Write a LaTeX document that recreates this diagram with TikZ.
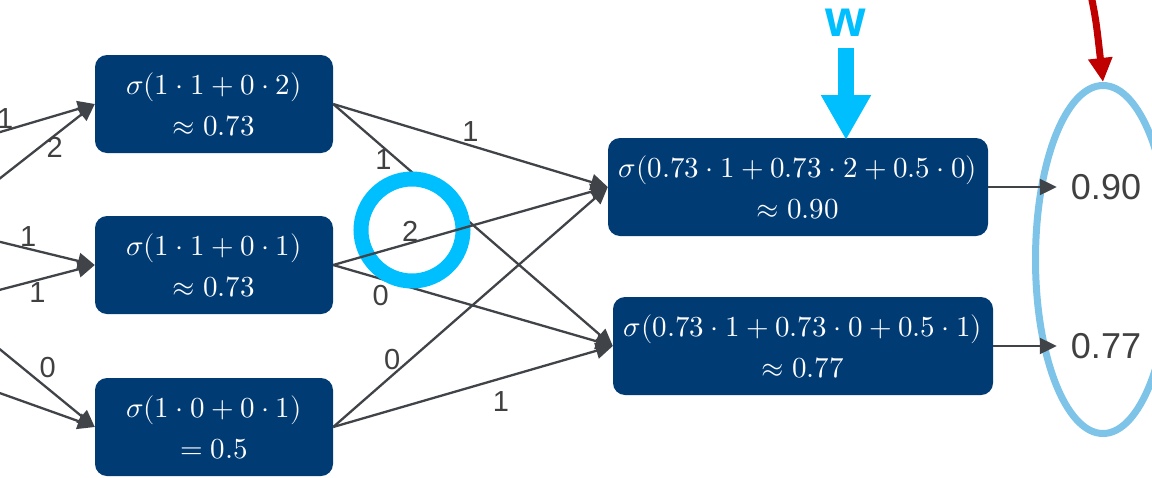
\documentclass[tikz,border=0pt]{standalone}
\usepackage{fontspec}
\usepackage{unicode-math}
\setmainfont{Liberation Sans}
\setmathfont{Latin Modern Math}
\usetikzlibrary{arrows.meta,shapes.geometric}
\definecolor{boxblue}{RGB}{0,59,116}
\definecolor{edgegray}{RGB}{64,68,72}
\definecolor{hlcyan}{RGB}{0,191,255}
\definecolor{ellblue}{RGB}{126,196,232}
\definecolor{arrowred}{RGB}{192,0,0}
\definecolor{txtgray}{RGB}{64,64,64}
\begin{document}
\begin{tikzpicture}[x=1pt,y=-1pt,
  neuron/.style={fill=boxblue, rounded corners=12pt, minimum width=238pt, minimum height=98pt,
    text=white, align=center, font=\fontsize{29pt}{41pt}\selectfont, inner sep=0pt},
  conn/.style={draw=edgegray, line width=2.3pt, -{Triangle[length=17pt,width=16pt]}},
  wlab/.style={font=\fontsize{29pt}{32pt}\selectfont, text=txtgray, inner sep=1pt},
  result/.style={font=\fontsize{36pt}{42pt}\selectfont, text=txtgray, inner xsep=14pt, inner ysep=0pt}
]
\clip (0,0) rectangle (1152,477);
\fill[white] (0,0) rectangle (1152,477);

% hidden layer
\node[neuron] (h1) at (214,104) {$\sigma(1\cdot 1+0\cdot 2)$\\$\approx 0.73$};
\node[neuron] (h2) at (214,265) {$\sigma(1\cdot 1+0\cdot 1)$\\$\approx 0.73$};
\node[neuron] (h3) at (214,427) {$\sigma(1\cdot 0+0\cdot 1)$\\$= 0.5$};
% output layer
\node[neuron, minimum width=380pt] (o1) at (798,187) {$\sigma(0.73\cdot 1+0.73\cdot 2+0.5\cdot 0)$\\$\approx 0.90$};
\node[neuron, minimum width=380pt] (o2) at (803,346) {$\sigma(0.73\cdot 1+0.73\cdot 0+0.5\cdot 1)$\\$\approx 0.77$};

% inputs coming from the left
\coordinate (a1) at (-20,138);
\coordinate (a2) at (-20,194);
\coordinate (b1) at (-20,237);
\coordinate (b2) at (-20,295);
\coordinate (c1) at (-20,333);
\coordinate (c2) at (-20,386);
\draw[conn] (a1) -- node[wlab,pos=0.22,above]{1} (h1.west);
\draw[conn] (a2) -- node[wlab,pos=0.65,below]{2} (h1.west);
\draw[conn] (b1) -- node[wlab,pos=0.42,above]{1} (h2.west);
\draw[conn] (b2) -- node[wlab,pos=0.5,below]{1} (h2.west);
\draw[conn] (c1) -- node[wlab,pos=0.5,anchor=south west]{0} (h3.west);
\draw[conn] (c2) -- (h3.west);

% hidden -> output
\draw[conn] (h1.east) -- node[wlab,pos=0.5,above=2pt]{1} (o1.west);
\draw[conn] (h1.east) -- node[wlab,pos=0.18,below]{1} (o2.west);
\draw[conn] (h2.east) -- node[wlab,pos=0.17,below=4pt]{0} (o2.west);
\draw[conn] (h3.east) -- node[wlab,pos=0.215,above=3pt]{0} (o1.west);
\draw[conn] (h3.east) -- node[wlab,pos=0.6,below=11pt]{1} (o2.west);

% highlight circle
\node[circle, draw=hlcyan, fill=white, line width=15pt, minimum size=102pt, inner sep=0pt] (hl) at (412,230) {};
\draw[conn] (h2.east) -- node[wlab,pos=0.28,above]{2} (o1.west);

% w arrow
\node[font=\fontsize{52pt}{54pt}\bfseries, text=hlcyan, inner sep=0pt] (w) at (846,23) {w};
\coordinate (wtip) at (846,140);
\draw[hlcyan, line width=16pt, -{Triangle[length=45pt,width=47pt]}] (846,48) -- (wtip);

% output ellipse and results
\node[ellipse, draw=ellblue, line width=7pt, minimum width=135pt, minimum height=348pt, inner sep=0pt] (ell) at (1103,259.5) {};
\node[result] (r1) at (1106,187) {0.90};
\node[result] (r2) at (1106,346) {0.77};
\draw[conn] (o1.east) -- (r1.west);
\draw[conn] (o2.east) -- (r2.west);

% red arrow
\coordinate (rs) at (1090,-10);
\draw[arrowred, line width=7pt, -{Triangle[length=24pt,width=23pt]}] (rs) .. controls (1096,20) .. (ell.north);
\end{tikzpicture}
\end{document}
